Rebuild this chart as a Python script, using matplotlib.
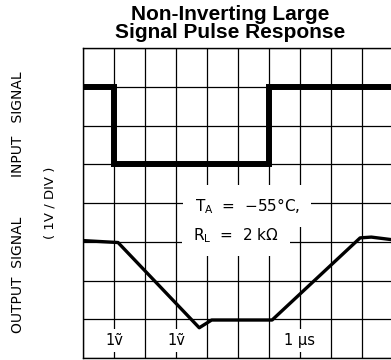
import matplotlib
matplotlib.use("Agg")
import matplotlib.pyplot as plt

# scope trace values, time axis in divisions, volts in divisions
input_t = [0, 1.0, 1.0, 6.0, 6.0, 10]
input_v = [7, 7, 5, 5, 7, 7]

output_t = [0, 1.13, 3.75, 4.15, 6.1, 8.94, 9.3, 10]
output_v = [3.03, 2.98, 0.78, 0.98, 0.98, 3.1, 3.12, 3.05]

scale_labels = ["1ṽ", "1ṽ", "1 μs"]
scale_x = [1.0, 3.0, 7.0]

fig = plt.figure(figsize=(3.91, 3.6), dpi=100)
ax = fig.add_axes([83 / 391, 2 / 360, 310 / 391, 310 / 360])
ax.set_xlim(0, 10)
ax.set_ylim(0, 8)
ax.set_xticks(range(11))
ax.set_yticks(range(9))
ax.grid(True, color="black", lw=0.9)
ax.tick_params(length=0, labelbottom=False, labelleft=False)
for s in ax.spines.values():
    s.set_linewidth(1.0)

ax.plot(input_t, input_v, color="black", lw=4.3, solid_joinstyle="miter", zorder=4)
ax.plot(output_t, output_v, color="black", lw=2.4, zorder=4)

ax.text(3.6, 3.92, r"T$_\mathregular{A}$  =  −55°C,", fontsize=11, ha="left", va="center",
        bbox=dict(boxstyle="square,pad=0.75", fc="white", ec="none"), zorder=3)
ax.text(3.55, 3.17, r"R$_\mathregular{L}$  =  2 kΩ", fontsize=11, ha="left", va="center",
        bbox=dict(boxstyle="square,pad=0.75", fc="white", ec="none"), zorder=3)

for x, lab in zip(scale_x, scale_labels):
    ax.text(x, 0.45, lab, fontsize=10.5, ha="center", va="center",
            bbox=dict(boxstyle="square,pad=0.3", fc="white", ec="none"), zorder=3)

fig.text(230 / 391, 1 - 5 / 360, "Non-Inverting Large\nSignal Pulse Response",
         ha="center", va="top", fontsize=15, fontweight="bold",
         family="Liberation Sans", linespacing=0.92)

fig.text(18 / 391, 1 - 124 / 360, "INPUT   SIGNAL", rotation=90, ha="center", va="center",
         fontsize=10)
fig.text(18 / 391, 1 - 275 / 360, "OUTPUT  SIGNAL", rotation=90, ha="center", va="center",
         fontsize=10)
fig.text(50 / 391, 1 - 203 / 360, "( 1V / DIV )", rotation=90, ha="center", va="center",
         fontsize=9.5)

fig.savefig("out.png", dpi=100)
